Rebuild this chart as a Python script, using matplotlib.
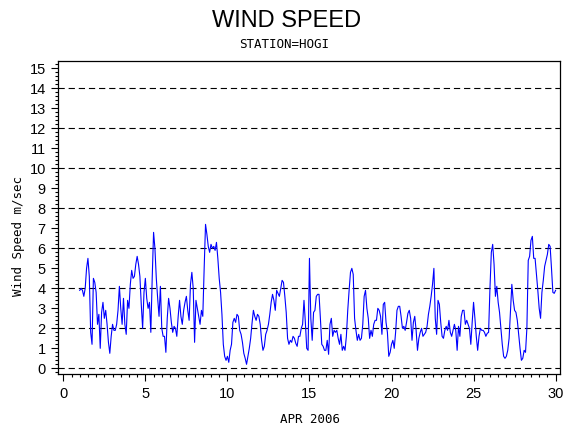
import numpy as np
import pandas as pd
import matplotlib
matplotlib.use('Agg')
import matplotlib.pyplot as plt
from matplotlib.ticker import MultipleLocator

# Wind speed (m/sec), every 2 hours, starting 1 Apr 2006 00:00
speed = [
    3.9, 4.0, 3.9, 3.6, 4.0, 5.0, 5.5, 4.6, 1.8, 1.2,
    4.5, 4.3, 3.8, 2.2, 2.7, 1.0, 2.8, 3.3, 2.5, 2.9,
    2.2, 1.3, 0.75, 1.6, 2.2, 1.9, 1.9, 2.2, 2.9, 4.1,
    3.0, 2.2, 3.5, 2.2, 1.7, 3.4, 3.0, 4.2, 4.9, 4.5,
    4.6, 5.2, 5.6, 5.2, 4.6, 3.2, 2.0, 3.8, 4.5, 3.5,
    3.0, 3.3, 1.8, 4.5, 6.8, 6.0, 4.5, 3.5, 2.6, 4.1,
    2.0, 1.6, 1.6, 0.8, 2.5, 3.5, 3.0, 2.3, 1.8, 2.1,
    2.0, 1.6, 2.6, 3.4, 2.6, 2.2, 2.9, 3.3, 3.6, 2.9,
    2.4, 4.2, 4.8, 4.0, 1.3, 3.4, 3.0, 2.6, 2.2, 2.9,
    2.6, 5.0, 7.2, 6.7, 6.1, 5.8, 6.2, 6.0, 6.1, 5.9,
    6.3, 5.5, 4.5, 3.8, 2.7, 1.2, 0.6, 0.4, 0.6, 0.3,
    0.9, 1.2, 2.3, 2.5, 2.3, 2.7, 2.6, 1.9, 1.7, 1.3,
    0.75, 0.5, 0.2, 0.6, 1.0, 1.5, 2.25, 2.9, 2.6, 2.4,
    2.7, 2.6, 2.2, 1.4, 0.9, 1.1, 1.7, 1.9, 2.2, 2.7,
    3.3, 3.7, 3.4, 2.9, 3.9, 3.75, 3.6, 4.0, 4.4, 4.3,
    3.6, 2.8, 1.5, 1.2, 1.4, 1.3, 1.6, 1.5, 1.25, 1.1,
    1.6, 1.6, 2.0, 2.2, 3.4, 2.3, 1.0, 0.9, 5.5, 2.5,
    1.4, 2.8, 2.9, 3.6, 3.7, 3.7, 2.5, 1.2, 1.1, 0.9,
    0.9, 1.4, 0.7, 2.2, 2.5, 1.6, 1.9, 1.8, 1.9, 1.5,
    1.2, 1.7, 0.9, 1.1, 0.9, 1.6, 2.9, 3.9, 4.8, 5.0,
    4.7, 2.5, 1.9, 1.4, 1.7, 1.4, 1.5, 2.2, 3.6, 3.9,
    3.0, 2.5, 1.5, 1.9, 1.6, 2.2, 2.4, 2.4, 3.0, 2.9,
    2.6, 1.7, 3.2, 3.3, 2.3, 1.8, 0.6, 0.8, 1.2, 1.4,
    1.0, 1.8, 2.9, 3.1, 3.1, 2.6, 2.0, 2.1, 1.9, 2.3,
    2.75, 2.9, 2.5, 1.4, 2.3, 2.6, 1.9, 0.9, 1.5, 1.8,
    2.0, 1.6, 1.7, 1.8, 2.1, 2.7, 3.1, 3.6, 4.2, 5.0,
    2.5, 1.7, 3.4, 3.2, 2.3, 1.6, 1.5, 1.9, 2.1, 1.9,
    2.4, 1.8, 1.6, 1.9, 2.2, 1.9, 0.9, 2.1, 1.6, 2.6,
    2.9, 2.9, 2.2, 2.4, 2.2, 2.0, 1.2, 2.3, 3.3, 2.5,
    1.6, 0.9, 1.6, 2.0, 1.9, 1.9, 1.8, 1.6, 1.75, 1.8,
    4.0, 5.8, 6.2, 5.2, 3.6, 4.1, 3.3, 2.8, 2.0, 1.2,
    0.6, 0.5, 0.6, 0.9, 1.5, 2.9, 4.2, 3.4, 2.9, 2.8,
    2.4, 1.7, 1.0, 0.4, 0.5, 0.9, 0.8, 2.0, 5.4, 5.6,
    6.4, 6.6, 5.5, 5.5, 4.7, 3.9, 3.0, 2.5, 3.8, 4.4,
    5.1, 5.4, 5.7, 6.2, 6.1, 5.0, 3.8, 3.75, 3.9,
]

x_ticks = [0, 5, 10, 15, 20, 25, 30]
y_ticks = list(range(0, 16))
ref_lines = [0, 2, 4, 6, 8, 10, 12, 14]

# time -> day of month with fraction
times = pd.date_range('2006-04-01 00:00', periods=len(speed), freq='2h')
day = times.day + times.hour / 24.0

plt.rcParams['lines.scale_dashes'] = False

fig = plt.figure(figsize=(5.7, 4.3), dpi=100)
ax = fig.add_axes([0.1023, 0.1302, 0.8802, 0.7279])

for r in ref_lines:
    ax.axhline(r, color='black', lw=0.8, dashes=(4.5, 2.8), zorder=1)

ax.plot(day, speed, color='#0000ff', lw=0.8, zorder=2)

ax.set_xlim(-0.305, 30.27)
ax.set_ylim(-0.285, 15.37)
ax.set_xticks(x_ticks)
ax.set_yticks(y_ticks)
ax.xaxis.set_minor_locator(MultipleLocator(0.5))
ax.yaxis.set_minor_locator(MultipleLocator(0.2))
ax.tick_params(which='both', direction='out', color='black', width=0.8)
ax.tick_params(which='major', length=5, pad=4)
ax.tick_params(which='minor', length=2.5)
for sp in ax.spines.values():
    sp.set_linewidth(0.9)
    sp.set_color('black')

tick_font = ['Liberation Sans Narrow', 'Liberation Sans']
for lab in ax.get_xticklabels() + ax.get_yticklabels():
    lab.set_family(tick_font)
    lab.set_fontsize(10.5)

fig.text(0.502, 0.952, 'WIND SPEED', ha='center', va='center',
         family='Liberation Sans', fontsize=17)
fig.text(0.499, 0.897, 'STATION=HOGI', ha='center', va='center',
         family='DejaVu Sans Mono', fontsize=9)
fig.text(0.543, 0.025, 'APR 2006', ha='center', va='center',
         family='DejaVu Sans Mono', fontsize=9)
fig.text(0.032, 0.45, 'Wind Speed m/sec', ha='center', va='center',
         rotation=90, family='DejaVu Sans Mono', fontsize=9)

fig.savefig('out.png', dpi=100)
